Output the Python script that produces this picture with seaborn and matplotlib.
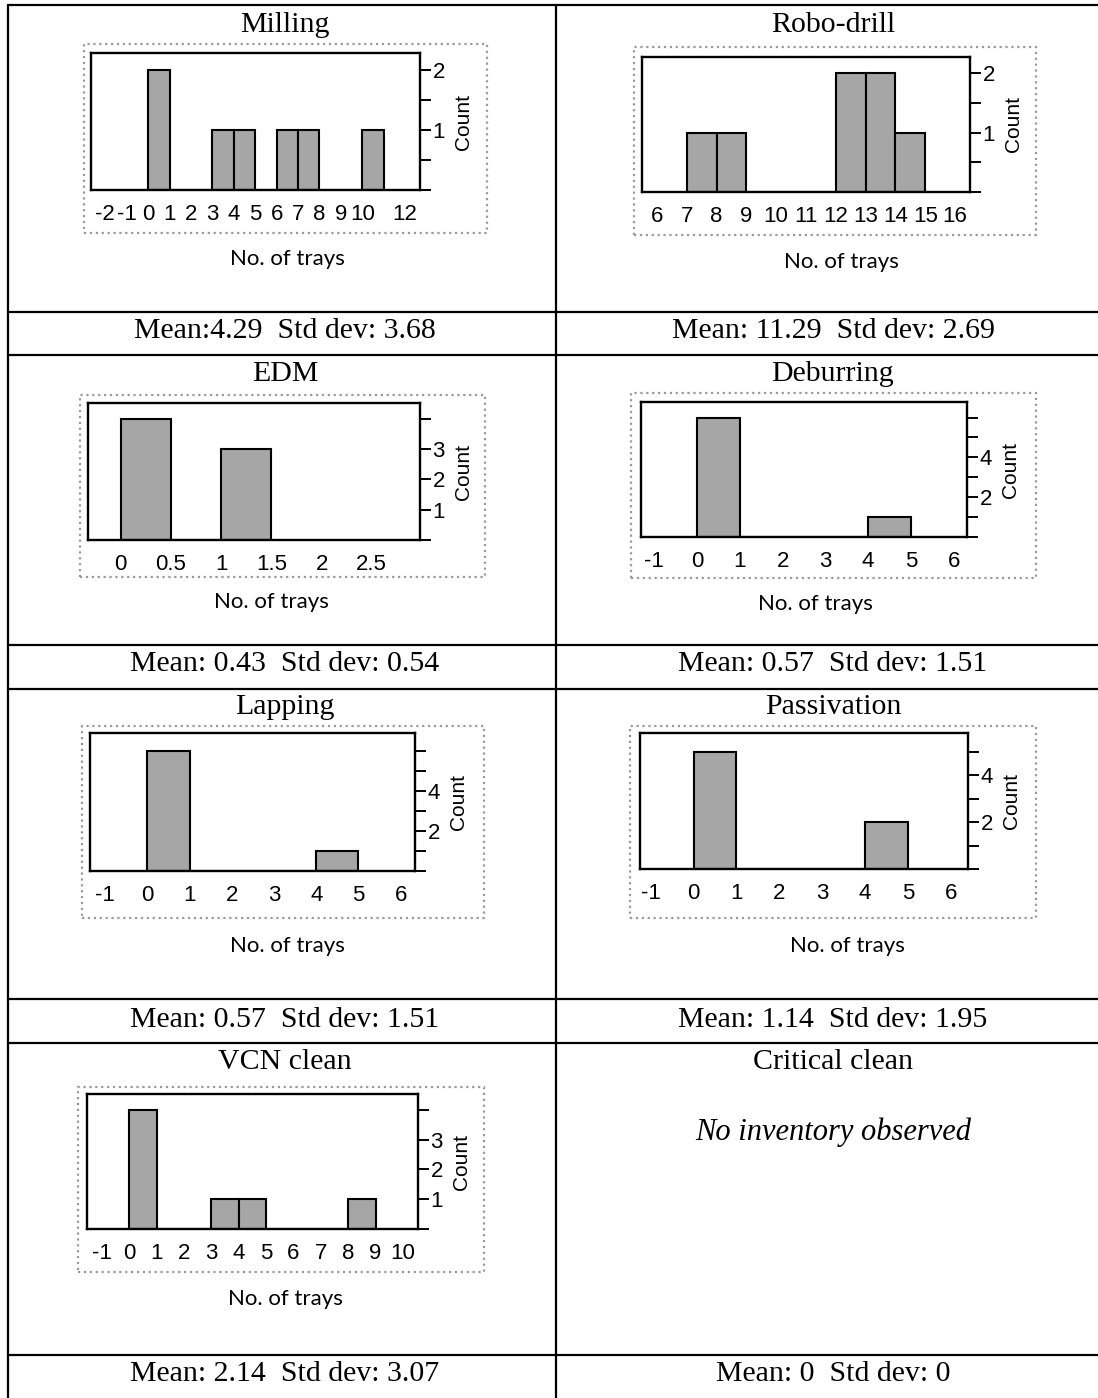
import numpy as np
import pandas as pd
import matplotlib
matplotlib.use('Agg')
import matplotlib.pyplot as plt
from matplotlib.lines import Line2D
from matplotlib.patches import Rectangle
import seaborn as sns

milling = [0, 0, 3, 4, 6, 7, 10]
robo_drill = [7, 8, 12, 12, 13, 13, 14]
edm = [0, 0, 0, 0, 1, 1, 1]
deburring = [0, 0, 0, 0, 0, 0, 4]
lapping = [0, 0, 0, 0, 0, 0, 4]
passivation = [0, 0, 0, 0, 0, 4, 4]
vcn_clean = [0, 0, 0, 0, 3, 4, 8]

titles = ["Milling", "Robo-drill", "EDM", "Deburring",
          "Lapping", "Passivation", "VCN clean", "Critical clean"]
stats = ["Mean:4.29  Std dev: 3.68", "Mean: 11.29  Std dev: 2.69",
         "Mean: 0.43  Std dev: 0.54", "Mean: 0.57  Std dev: 1.51",
         "Mean: 0.57  Std dev: 1.51", "Mean: 1.14  Std dev: 1.95",
         "Mean: 2.14  Std dev: 3.07", "Mean: 0  Std dev: 0"]
bin_widths = [1, 1, 0.5, 1, 1, 1, 1]

x_ticks = [[-2, -1, 0, 1, 2, 3, 4, 5, 6, 7, 8, 9, 10, 12],
           list(range(6, 17)),
           [0, 0.5, 1, 1.5, 2, 2.5],
           list(range(-1, 7)),
           list(range(-1, 7)),
           list(range(-1, 7)),
           list(range(-1, 11))]
x_ticklabels = [[str(t) for t in x_ticks[0]],
                [str(t) for t in x_ticks[1]],
                ["0", "0.5", "1", "1.5", "2", "2.5"],
                [str(t) for t in x_ticks[3]],
                [str(t) for t in x_ticks[4]],
                [str(t) for t in x_ticks[5]],
                [str(t) for t in x_ticks[6]]]
y_ticks = [[0, 0.5, 1, 1.5, 2], [0, 0.5, 1, 1.5, 2], [0, 1, 2, 3, 4],
           [0, 1, 2, 3, 4, 5, 6], [0, 1, 2, 3, 4, 5, 6],
           [0, 1, 2, 3, 4, 5], [0, 1, 2, 3, 4]]
y_ticklabels = [["", "", "1", "", "2"], ["", "", "1", "", "2"],
                ["", "1", "2", "3", ""],
                ["", "", "2", "", "4", "", ""], ["", "", "2", "", "4", "", ""],
                ["", "", "2", "", "4", ""], ["", "1", "2", "3", ""]]

series = [milling, robo_drill, edm, deburring, lapping, passivation, vcn_clean]

# layout in pixels: plot box, outer frame, x-label centre, limits
layout = [
    dict(box=(91, 53, 420, 190), frame=(84, 44, 487, 233), lab=(287, 259), xlim=(-2.67, 12.7), ylim=(0, 2.28)),
    dict(box=(642, 57, 970, 192), frame=(634, 47, 1036, 235), lab=(841, 262), xlim=(5.5, 16.5), ylim=(0, 2.27)),
    dict(box=(88, 403, 420, 540), frame=(80, 395, 485, 577), lab=(271, 602), xlim=(-0.326, 2.98), ylim=(0, 4.52)),
    dict(box=(641, 402, 967, 537), frame=(631, 393, 1036, 578), lab=(815, 604), xlim=(-1.31, 6.31), ylim=(0, 6.78)),
    dict(box=(90, 733, 415, 871), frame=(82, 726, 484, 918), lab=(287, 946), xlim=(-1.36, 6.34), ylim=(0, 6.9)),
    dict(box=(640, 733, 968, 869), frame=(630, 726, 1036, 918), lab=(847, 946), xlim=(-1.25, 6.4), ylim=(0, 5.8)),
    dict(box=(87, 1094, 418, 1229), frame=(78, 1087, 484, 1272), lab=(285, 1299), xlim=(-1.55, 10.55), ylim=(0, 4.53)),
]

W, H = 1098, 1398
sns.set_style('white')
plt.rcParams['font.family'] = ['Liberation Sans', 'DejaVu Sans']
plt.rcParams['text.color'] = 'black'
plt.rcParams['axes.labelcolor'] = 'black'
plt.rcParams['xtick.color'] = 'black'
plt.rcParams['ytick.color'] = 'black'

fig = plt.figure(figsize=(W / 100, H / 100), dpi=100)


def fx(x):
    return x / W


def fy(y):
    return 1 - y / H


def hline(y, x0=0, x1=W):
    fig.add_artist(Line2D([fx(x0), fx(x1)], [fy(y), fy(y)], transform=fig.transFigure,
                          color='black', lw=1.6))


def vline(x, y0, y1):
    fig.add_artist(Line2D([fx(x), fx(x)], [fy(y0), fy(y1)], transform=fig.transFigure,
                          color='black', lw=1.6))


# table grid
for y in [5, 312, 355, 645, 689, 999, 1043, 1355]:
    hline(y, 8, W)
vline(8, 5, H)
vline(556, 5, H)

serif = 'Liberation Serif'
col_x = [285, 833]
title_y = [25, 374, 707, 1062]
stat_y = [331, 664, 1020, 1374]
for i, (t, s) in enumerate(zip(titles, stats)):
    r, c = divmod(i, 2)
    fig.text(fx(col_x[c]), fy(title_y[r]), t, family=serif, fontsize=21.5, ha='center', va='center')
    fig.text(fx(col_x[c]), fy(stat_y[r]), s, family=serif, fontsize=21.5, ha='center', va='center')

fig.text(fx(833), fy(1132), "No inventory observed", family=serif, style='italic',
         fontsize=22, ha='center', va='center')

for vals, bw, xt, xtl, yt, ytl, lay in zip(series, bin_widths, x_ticks, x_ticklabels,
                                          y_ticks, y_ticklabels, layout):
    fx0, fy0, fx1, fy1 = lay['frame']
    fig.add_artist(Rectangle((fx(fx0), fy(fy1)), fx(fx1) - fx(fx0), fy(fy0) - fy(fy1),
                             transform=fig.transFigure, facecolor='white',
                             edgecolor='#9a9a9a', lw=1.6, ls=':', zorder=-1))
    x0, y0, x1, y1 = lay['box']
    ax = fig.add_axes([fx(x0), fy(y1), fx(x1) - fx(x0), fy(y0) - fy(y1)])
    ax.set_zorder(2)
    df = pd.DataFrame({'trays': vals})
    sns.histplot(data=df, x='trays', binwidth=bw, binrange=(min(vals), max(vals) + bw),
                 color='#a6a6a6', edgecolor='black', linewidth=1.5, alpha=1, ax=ax)
    ax.set_xlim(*lay['xlim'])
    ax.set_ylim(*lay['ylim'])
    ax.set_xticks(xt)
    ax.set_xticklabels(xtl)
    ax.set_yticks(yt)
    ax.set_yticklabels(ytl)
    ax.yaxis.tick_right()
    ax.tick_params(axis='both', direction='out', length=8, width=1.4, color='black',
                   labelsize=16, pad=2)
    ax.tick_params(axis='y', pad=1)
    for sp in ax.spines.values():
        sp.set_linewidth(1.7)
        sp.set_color('black')
    ax.set_xlabel('')
    ax.set_ylabel('Count', fontsize=15)
    ax.yaxis.set_label_position('right')
    ax.yaxis.set_label_coords(1 + 34 / (x1 - x0), 0.5)
    lx, ly = lay['lab']
    fig.text(fx(lx), fy(ly), "No. of trays", family=['Lato', 'DejaVu Sans'], fontsize=16,
             ha='center', va='center')

fig.savefig('out.png', dpi=100)
